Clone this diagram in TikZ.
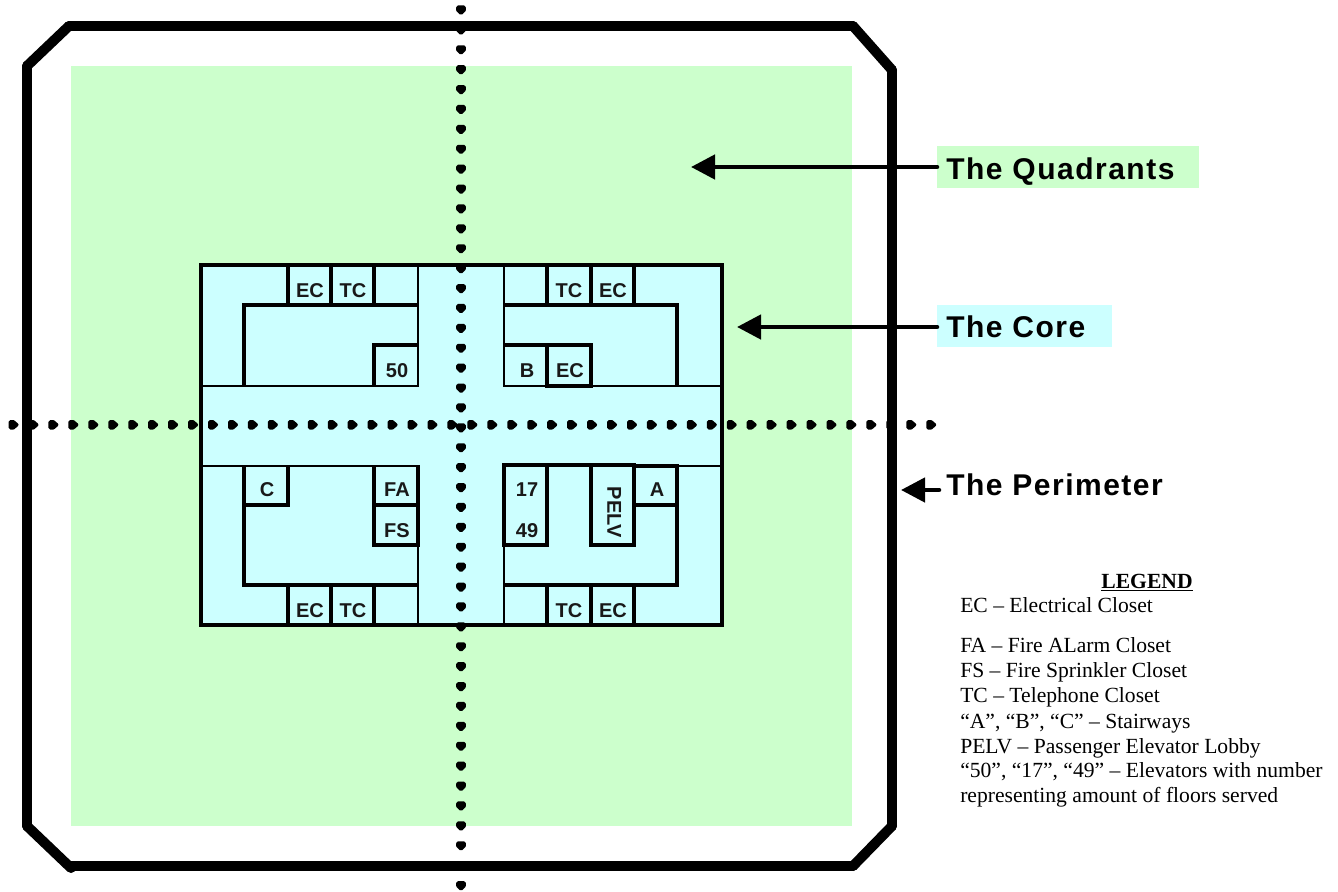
\documentclass[tikz,border=0pt]{standalone}
\usepackage{fontspec}
\setmainfont{Liberation Serif}
\newfontfamily\arialb{Liberation Sans Bold}
\newfontfamily\arialbs[LetterSpace=5]{Liberation Sans Bold}
\usetikzlibrary{arrows.meta}
\definecolor{quadgreen}{HTML}{CCFFCC}
\definecolor{corecyan}{HTML}{CCFFFF}
\tikzset{
  perim/.style={line width=7.5pt,line cap=round},
  thickwall/.style={line width=2.5pt,line cap=rect},
  thinwall/.style={line width=1.6pt},
  room/.style={inner sep=0pt,yshift=-1pt,font=\arialb\fontsize{15}{15}\selectfont,text=black!90},
  head/.style={anchor=base west,inner sep=0pt,font=\arialbs\fontsize{22.5}{22.5}\selectfont},
  leg/.style={anchor=base west,inner sep=0pt,font=\fontsize{16.2}{16.2}\selectfont},
  pointer/.style={line width=3.4pt,line cap=round,-{Triangle[length=18pt,width=18pt]}},
  labelbox/.style={inner sep=0pt,anchor=north west,minimum height=31.5pt},
  axisdot/.style={fill=black,draw=black,line width=2.6pt,line join=round}
}
\begin{document}
\begin{tikzpicture}[x=0.75pt,y=-0.75pt]
\useasboundingbox (0,0) rectangle (1338,892);
% quadrants and core
\fill[quadgreen] (71,66) rectangle (852,826);
\fill[corecyan] (201,265) rectangle (722,625);
% perimeter
\draw[perim] (27,66) -- (27,826);
\draw[perim] (27,826) -- (71,868);
\draw[perim] (70,866) -- (853,866);
\draw[perim] (853,866) -- (892,826);
\draw[perim] (892,826) -- (892,70);
\draw[perim] (892,70) -- (853,26);
\draw[perim] (853,26) -- (69,26);
\draw[perim] (69,26) -- (27,66);
% thin walls
\draw[thinwall] (418,265) -- (418,386) -- (201,386);
\draw[thinwall] (504,265) -- (504,386) -- (722,386);
\draw[thinwall] (201,466) -- (418,466) -- (418,625);
\draw[thinwall] (677,466) -- (722,466);
\draw[thinwall] (504,545) -- (504,625);
% core outline
\draw[thickwall] (201,265) rectangle (722,625);
% top left
\draw[thickwall] (244,385.5) -- (244,305) -- (417.5,305);
\draw[thickwall] (288,265) -- (288,305) (331,265) -- (331,305) (374,265) -- (374,305);
\draw[thickwall] (374,385.5) -- (374,345) -- (417.5,345);
% top right
\draw[thickwall] (504.5,305) -- (677,305) -- (677,385.5);
\draw[thickwall] (547,265) -- (547,305) (591,265) -- (591,305) (634,265) -- (634,305);
\draw[thickwall] (504.5,345) -- (591,345) -- (591,386) -- (547,386);
\draw[thickwall] (547,345) -- (547,386);
% bottom left
\draw[thickwall] (244,466.5) -- (244,585) -- (417.5,585);
\draw[thickwall] (288,585) -- (288,625) (331,585) -- (331,625) (374,585) -- (374,625);
\draw[thickwall] (244,505) -- (288,505) -- (288,466.5);
\draw[thickwall] (374,466.5) -- (374,545) -- (418,545);
\draw[thickwall] (374,505) -- (418,505);
\draw[thickwall] (418,466.5) -- (418,545);
% bottom right
\draw[thickwall] (504,465) rectangle (547,545);
\draw[thickwall] (591,465) rectangle (634,545);
\draw[thickwall] (547,465) -- (591,465);
\draw[thickwall] (634,466) -- (677,466) -- (677,585) -- (504.5,585);
\draw[thickwall] (634,505) -- (677,505);
\draw[thickwall] (547,585) -- (547,625) (591,585) -- (591,625) (634,585) -- (634,625);
% room labels
\node[room] (ec1) at (310,289) {EC};
\node[room] (tc1) at (353,289) {TC};
\node[room] (e50) at (397,369) {50};
\node[room] (tc2) at (569,289) {TC};
\node[room] (ec2) at (613,289) {EC};
\node[room] (stb) at (527,369) {B};
\node[room] (ec3) at (570,369) {EC};
\node[room] (stc) at (267,488) {C};
\node[room] (fa) at (397,488) {FA};
\node[room] (fs) at (397,529) {FS};
\node[room] (ec4) at (310,609) {EC};
\node[room] (tc3) at (353,609) {TC};
\node[room] (e17) at (527,488) {17};
\node[room] (e49) at (527,529) {49};
\node[room,rotate=-90,yshift=1pt] (pelv) at (613,511) {PELV};
\node[room] (sta) at (657,488) {A};
\node[room] (tc4) at (569,609) {TC};
\node[room] (ec5) at (613,609) {EC};
% dotted axes
\foreach \k in {0,...,44}{
  \pgfmathsetmacro{\yy}{10+19.9*\k}
  \path[axisdot] (458,\yy-2.8) -- (464,\yy-2.8) -- (464.2,\yy) -- (461,\yy+3.2) -- (457.8,\yy) -- cycle;
}
\foreach \k in {0,...,46}{
  \pgfmathsetmacro{\xx}{931-19.95*\k}
  \path[axisdot] (\xx-3,421.8) -- (\xx,421.8) -- (\xx+3.5,424.8) -- (\xx,427.8) -- (\xx-3,427.8) -- cycle;
}
% headings
\node[labelbox,fill=quadgreen,minimum width=196.5pt] (qbox) at (937,146) {};
\node[labelbox,fill=corecyan,minimum width=131.25pt] (cbox) at (937,305) {};
\node[head] (qtext) at (946,179) {The Quadrants};
\node[head] (ctext) at (946,337) {The Core};
\node[head] (ptext) at (946,495) {The Perimeter};
\coordinate (qtip) at (691,167);
\coordinate (ctip) at (737,327);
\coordinate (ptip) at (901,490);
\coordinate (pstart) at (939,490);
\draw[pointer] (qbox.west |- qtip) -- (qtip);
\draw[pointer] (cbox.west |- ctip) -- (ctip);
\draw[pointer] (pstart) -- (ptip);
% legend
\node[inner sep=0pt,anchor=base,font=\bfseries\fontsize{16.2}{16.2}\selectfont] (lt) at (1147,588) {\underline{LEGEND}};
\node[leg] (l1) at (960,612) {EC – Electrical Closet};
\node[leg] (l2) at (960,652) {FA – Fire ALarm Closet};
\node[leg] (l3) at (960,677) {FS – Fire Sprinkler Closet};
\node[leg] (l4) at (960,702) {TC – Telephone Closet};
\node[leg] (l5) at (960,728) {“A”, “B”, “C” – Stairways};
\node[leg] (l6) at (960,753) {PELV – Passenger Elevator Lobby};
\node[leg] (l7) at (960,777) {“50”, “17”, “49” – Elevators with number};
\node[leg] (l8) at (960,802) {representing amount of floors served};
\end{tikzpicture}
\end{document}
